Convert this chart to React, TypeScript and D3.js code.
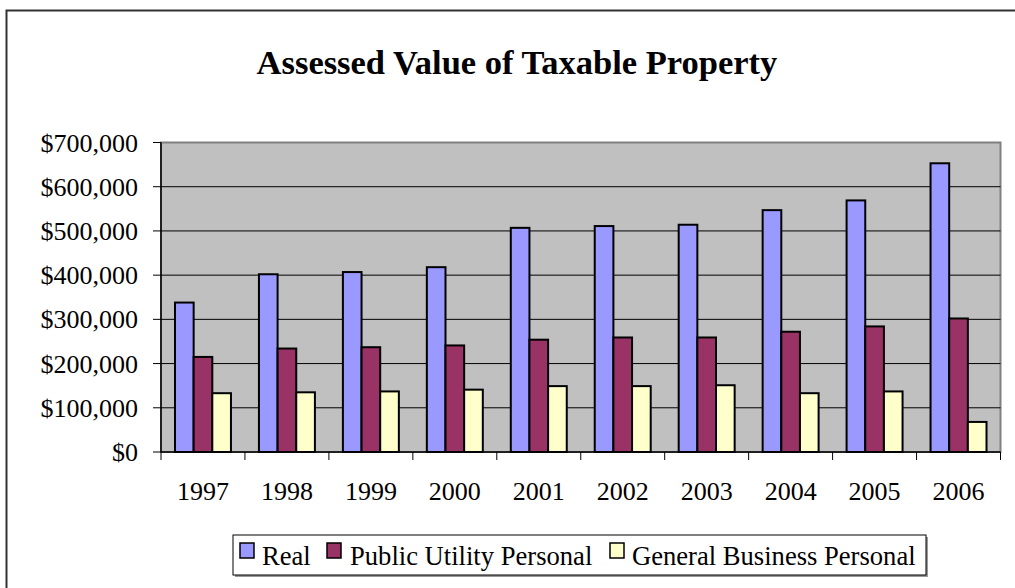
import * as d3 from "d3";
import React from "react";

const years = ["1997", "1998", "1999", "2000", "2001", "2002", "2003", "2004", "2005", "2006"];
const seriesNames = ["Real", "Public Utility Personal", "General Business Personal"];
const seriesColors = ["#9999FF", "#993366", "#FFFFCC"];
const realValues = [338000, 402000, 407000, 418000, 507000, 511000, 514000, 547000, 569000, 653000];
const utilityValues = [215000, 234000, 237000, 241000, 254000, 259000, 259000, 272000, 284000, 302000];
const businessValues = [133000, 135000, 137000, 141000, 149000, 149000, 151000, 133000, 137000, 68000];
const yTicks = [0, 100000, 200000, 300000, 400000, 500000, 600000, 700000];

const FONT = "'Liberation Serif', 'Times New Roman', serif";

const App = () => {
  const width = 1015;
  const height = 588;
  const plot = { left: 161, right: 1000.5, top: 142.5, bottom: 452 };

  const x0 = d3.scaleBand().domain(years).range([plot.left, plot.right]);
  const x1 = d3
    .scaleBand()
    .domain(seriesNames)
    .range([0, x0.bandwidth()])
    .paddingInner(0)
    .paddingOuter(0.75);
  const y = d3.scaleLinear().domain([0, 700000]).range([plot.bottom, plot.top]);
  const fmt = d3.format("$,");

  const allSeries = [realValues, utilityValues, businessValues];

  // legend layout
  const legendItems = [
    { marker: 240, text: 262 },
    { marker: 327, text: 350 },
    { marker: 610, text: 632 },
  ];

  return (
    <svg
      width={width}
      height={height}
      style={{ position: "absolute", left: 0, top: 0, background: "#fff" }}
      fontFamily={FONT}
    >
      {/* outer frame */}
      <path d={`M6.5,${height} V10.5 H${width}`} fill="none" stroke="#333" strokeWidth={2} />

      <text x={517} y={74} textAnchor="middle" fontSize={34.5} fontWeight="bold">
        Assessed Value of Taxable Property
      </text>

      {/* plot area */}
      <rect
        x={plot.left}
        y={plot.top}
        width={plot.right - plot.left}
        height={plot.bottom - plot.top}
        fill="#C0C0C0"
        stroke="#808080"
        strokeWidth={2}
      />

      {/* gridlines */}
      {yTicks.slice(1, -1).map((t) => (
        <line key={t} x1={plot.left} x2={plot.right} y1={y(t)} y2={y(t)} stroke="#000" strokeWidth={1} />
      ))}

      {/* bars */}
      {years.map((yr, i) => (
        <g key={yr} transform={`translate(${x0(yr)},0)`}>
          {seriesNames.map((s, j) => (
            <rect
              key={s}
              x={x1(s)}
              y={y(allSeries[j][i])}
              width={x1.bandwidth()}
              height={y(0) - y(allSeries[j][i])}
              fill={seriesColors[j]}
              stroke="#000"
              strokeWidth={2}
            />
          ))}
        </g>
      ))}

      {/* y axis */}
      <line x1={plot.left} x2={plot.left} y1={plot.top} y2={plot.bottom} stroke="#000" strokeWidth={1.5} />
      {yTicks.map((t) => (
        <g key={t}>
          <line x1={plot.left - 8} x2={plot.left} y1={y(t)} y2={y(t)} stroke="#000" strokeWidth={1} />
          <text x={138} y={y(t) + 9} textAnchor="end" fontSize={26}>
            {fmt(t)}
          </text>
        </g>
      ))}

      {/* x axis */}
      <line x1={plot.left} x2={plot.right} y1={plot.bottom} y2={plot.bottom} stroke="#000" strokeWidth={1.5} />
      {[...years.map((yr) => x0(yr) as number), plot.right].map((px, i) => (
        <line key={i} x1={px} x2={px} y1={plot.bottom} y2={plot.bottom + 8} stroke="#000" strokeWidth={1} />
      ))}
      {years.map((yr) => (
        <text key={yr} x={(x0(yr) as number) + x0.bandwidth() / 2} y={500} textAnchor="middle" fontSize={26}>
          {yr}
        </text>
      ))}

      {/* legend */}
      <rect x={235} y={537} width={693} height={40} fill="#999" />
      <rect x={233} y={535} width={693} height={40} fill="#fff" stroke="#000" strokeWidth={1} />
      {seriesNames.map((s, j) => (
        <g key={s}>
          <rect
            x={legendItems[j].marker}
            y={543}
            width={14}
            height={15}
            fill={seriesColors[j]}
            stroke="#000"
            strokeWidth={1.5}
          />
          <text x={legendItems[j].text} y={565} fontSize={26.6}>
            {s}
          </text>
        </g>
      ))}
    </svg>
  );
};

export default App;
